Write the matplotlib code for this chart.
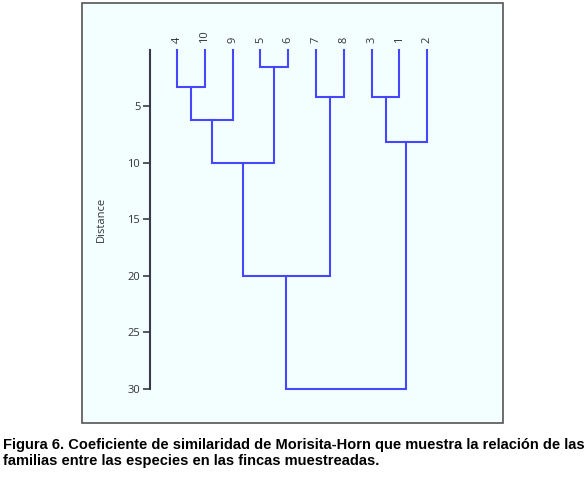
import matplotlib
matplotlib.use("Agg")
import matplotlib.pyplot as plt
from matplotlib.patches import Rectangle

# ---- data ----
leaf_labels = ['4', '10', '9', '5', '6', '7', '8', '3', '1', '2']
# merges: cluster ids 0-9 are leaves, new clusters get ids 10, 11, ...
merge_left = [0, 3, 5, 7, 10, 13, 14, 16, 17]
merge_right = [1, 4, 6, 8, 2, 9, 11, 12, 15]
merge_height = [3.3, 1.5, 4.2, 4.2, 6.2, 8.2, 10.0, 20.0, 30.0]
yticks = [5, 10, 15, 20, 25, 30]
caption = ("Figura 6. Coeficiente de similaridad de Morisita-Horn que muestra la relación de las\n"
           "familias entre las especies en las fincas muestreadas.")

W, H = 585, 496
fig = plt.figure(figsize=(W / 100, H / 100), dpi=100)
fig.patch.set_facecolor('white')

# background layer
bg = fig.add_axes([0, 0, 1, 1], zorder=-1)
bg.set_xlim(0, W)
bg.set_ylim(H, 0)
bg.axis('off')
bg.add_patch(Rectangle((82, 3), 421, 420, facecolor='#F3FFFF', edgecolor='#555555',
                       linewidth=1.2))

# axes placed in pixel coordinates
x0_px, x1_px = 150, 440
leaf0_px, step_px = 177, 27.8
top_px, bot_px = 49.8, 388.7
ax = fig.add_axes([x0_px / W, 1 - bot_px / H, (x1_px - x0_px) / W, (bot_px - top_px) / H],
                  zorder=1)
ax.set_facecolor('none')
ax.set_xlim((x0_px - leaf0_px) / step_px, (x1_px - leaf0_px) / step_px)
ax.set_ylim(30, 0)

font = 'Open Sans'
line_color = '#4646FF'

pos = {i: float(i) for i in range(len(leaf_labels))}
hgt = {i: 0.0 for i in range(len(leaf_labels))}
for k, (l, r, h) in enumerate(zip(merge_left, merge_right, merge_height)):
    xl, xr = pos[l], pos[r]
    ax.plot([xl, xl, xr, xr], [hgt[l], h, h, hgt[r]], color=line_color, lw=1.5,
            solid_joinstyle='miter', clip_on=False)
    nid = len(leaf_labels) + k
    pos[nid] = (xl + xr) / 2
    hgt[nid] = h

for i, lab in enumerate(leaf_labels):
    ax.annotate(lab, (i, 0), xytext=(0, 5), textcoords='offset points', rotation=90,
                ha='center', va='bottom', fontsize=8, family=font, color='#333333')

for s in ['top', 'right', 'bottom']:
    ax.spines[s].set_visible(False)
ax.spines['left'].set_color('#3a3a4a')
ax.spines['left'].set_linewidth(1.5)
ax.set_xticks([])
ax.set_yticks(yticks)
ax.set_yticklabels([str(t) for t in yticks], family=font, fontsize=8, color='#333333')
ax.tick_params(axis='y', length=5, width=1.2, color='#3a3a4a', pad=2)

fig.text(101.7 / W, 1 - 219 / H, 'Distance', rotation=90, ha='center', va='center',
         fontsize=8, family=font, color='#333333')

fig.text(3 / W, 1 - 453 / H, caption, ha='left', va='center', fontsize=10.5,
         fontweight='bold', family='Liberation Sans', color='black', linespacing=1.1)

fig.savefig('out.png', dpi=100)
